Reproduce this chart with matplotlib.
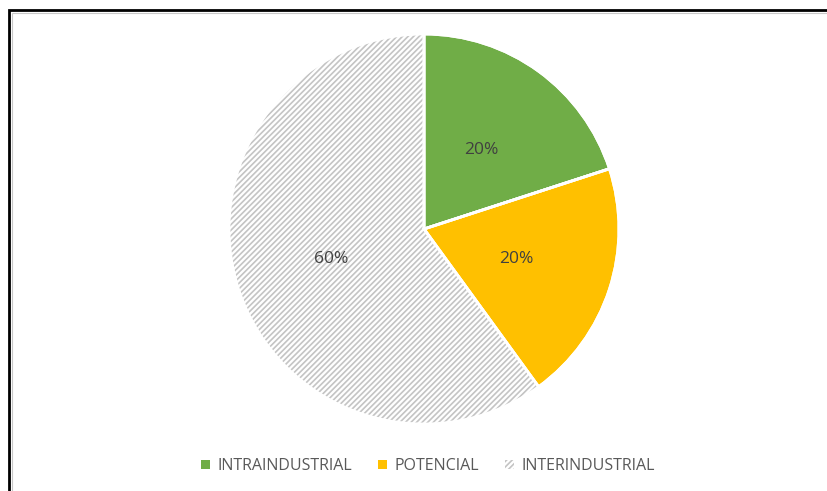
import matplotlib.pyplot as plt
from matplotlib.patches import Rectangle, Patch

# Данные
labels = ['INTRAINDUSTRIAL', 'POTENCIAL', 'INTERINDUSTRIAL']
values = [20, 20, 60]
colors = ['#70ad47', '#ffc000', '#ffffff']

plt.rcParams['font.family'] = ['Open Sans', 'DejaVu Sans']
plt.rcParams['hatch.linewidth'] = 1.2

W, H = 827, 491
fig = plt.figure(figsize=(W / 100, H / 100), dpi=100)

# рамка
fig.patches.append(Rectangle((9 / W, -0.1), 1.2, (H - 10) / H + 0.1, transform=fig.transFigure,
                             fill=False, edgecolor='black', linewidth=2.0))
fig.patches.append(Rectangle((11.5 / W, -0.1), 1.2, (H - 12.5) / H + 0.1, transform=fig.transFigure,
                             fill=False, edgecolor='#c8c8c8', linewidth=0.8))

cx, cy, r = 424, H - 229, 195
ax = fig.add_axes([(cx - r) / W, (cy - r) / H, 2 * r / W, 2 * r / H])
wedges, texts, autotexts = ax.pie(values, colors=colors, startangle=90, counterclock=False,
                                  autopct='%1.0f%%', pctdistance=0.5, radius=1,
                                  wedgeprops=dict(edgecolor='white', linewidth=2),
                                  textprops=dict(color='#404040', fontsize=12.5))
wedges[2].set_hatch('//////')
wedges[2].set_edgecolor('#c4c4c4')
wedges[2].set_linewidth(0)

# белые разделители поверх штриховки
ax.pie(values, startangle=90, counterclock=False, radius=1,
       wedgeprops=dict(edgecolor='white', linewidth=2, fill=False))
for t in autotexts:
    t.set_zorder(5)
ax.set_xlim(-1, 1)
ax.set_ylim(-1, 1)
ax.set_aspect('equal')

handles = [Patch(facecolor=colors[0]), Patch(facecolor=colors[1]),
           Patch(facecolor='white', hatch='//////', edgecolor='#c4c4c4', linewidth=0)]
fig.legend(handles, labels, loc='center', bbox_to_anchor=(428 / W, 1 - 466 / H), ncol=3,
           frameon=False, handlelength=0.55, handleheight=0.55, handletextpad=0.5,
           columnspacing=1.6, prop=dict(size=11.5), labelcolor='#595959')

plt.savefig('out.png', dpi=100)
